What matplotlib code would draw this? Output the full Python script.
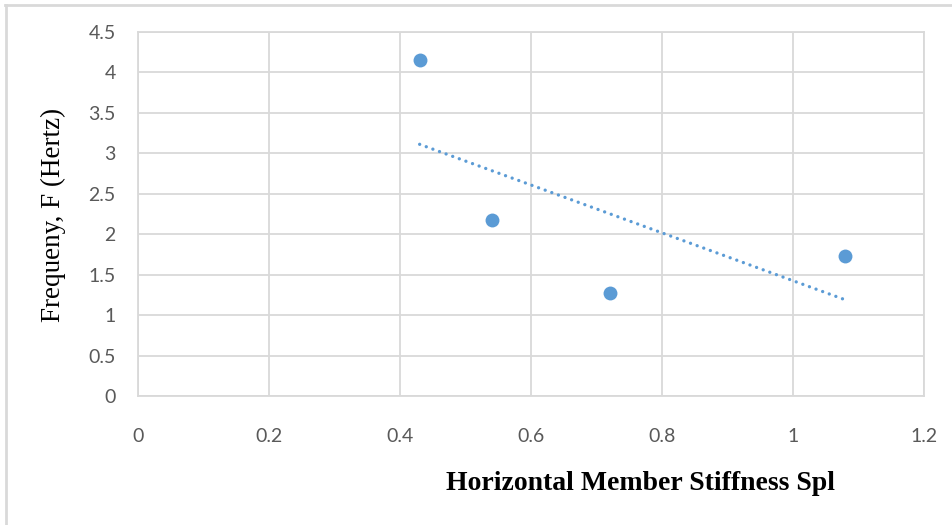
"""
Natural frequency against horizontal member stiffness, with a linear trendline.
"""

import numpy as np
import matplotlib.pyplot as plt
from matplotlib.lines import Line2D

# measured points
stiffness = [0.43, 0.54, 0.72, 1.08]
frequency = [4.16, 2.18, 1.27, 1.73]

x_ticks = [0, 0.2, 0.4, 0.6, 0.8, 1, 1.2]
y_ticks = [0, 0.5, 1, 1.5, 2, 2.5, 3, 3.5, 4, 4.5]
x_tick_labels = ["0", "0.2", "0.4", "0.6", "0.8", "1", "1.2"]
y_tick_labels = ["0", "0.5", "1", "1.5", "2", "2.5", "3", "3.5", "4", "4.5"]

BLUE = "#5B9BD5"
GRID = "#D9D9D9"
TICK = "#595959"

W, H = 953, 525
fig = plt.figure(figsize=(W / 100, H / 100), dpi=100)
ax = fig.add_axes([138 / W, (H - 396) / H, (924 - 138) / W, (396 - 32) / H])

# least-squares trendline over the data range
slope, intercept = np.polyfit(stiffness, frequency, 1)
x_fit = np.array([min(stiffness), max(stiffness)])
ax.plot(x_fit, slope * x_fit + intercept, linestyle=(0, (0.01, 2.1)),
        color=BLUE, linewidth=2.4, dash_capstyle="round", zorder=3)

ax.plot(stiffness, frequency, "o", color=BLUE, markersize=10,
        markeredgewidth=0, zorder=4)

ax.set_xlim(0, 1.2)
ax.set_ylim(0, 4.5)
ax.set_xticks(x_ticks)
ax.set_xticklabels(x_tick_labels)
ax.set_yticks(y_ticks)
ax.set_yticklabels(y_tick_labels)
ax.grid(True, color=GRID, linewidth=1.3)
ax.set_axisbelow(True)
for side in ax.spines.values():
    side.set_color(GRID)
    side.set_linewidth(1.3)
ax.tick_params(length=0, colors=TICK, labelsize=14)
ax.tick_params(axis="x", pad=23)
ax.tick_params(axis="y", pad=16)
for lbl in ax.get_xticklabels() + ax.get_yticklabels():
    lbl.set_family("Lato")

fig.text(53 / W, 1 - 215 / H, "Frequeny, F (Hertz)", rotation=90,
         ha="center", va="center", family="Liberation Serif", fontsize=19.5)
fig.text(641 / W, 1 - 483 / H, "Horizontal Member Stiffness Spl",
         ha="center", va="center", family="Liberation Serif",
         fontweight="bold", fontsize=20)

# chart frame (top and left edges)
fig.add_artist(Line2D([5 / W, 952 / W], [1 - 5 / H, 1 - 5 / H],
                      transform=fig.transFigure, color=GRID, linewidth=2))
fig.add_artist(Line2D([6 / W, 6 / W], [0, 1 - 5 / H],
                      transform=fig.transFigure, color=GRID, linewidth=2))

fig.savefig("out.png", dpi=100)
